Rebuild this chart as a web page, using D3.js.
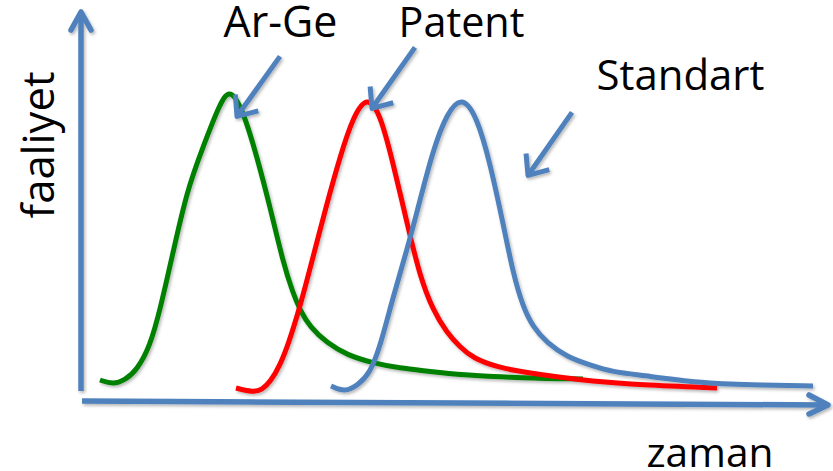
<!DOCTYPE html>
<html><head><meta charset="utf-8">
<script src="https://cdn.jsdelivr.net/npm/d3@7"></script>
<style>html,body{margin:0;padding:0;background:#fff;overflow:hidden}</style>
</head><body>
<svg id="c" width="833" height="471"></svg>
<script>
// ---- data (time, activity) ----
const seriesNames = ["Ar-Ge", "Patent", "Standart"];
const seriesColors = ["#008000", "#ff0000", "#4f81bd"];

const argeTime = [2.43, 4.19, 5.81, 7.43, 9.19, 10.54, 12.16, 14.19, 16.35, 18.65, 20.0, 21.76, 23.65, 25.41, 27.16, 28.51, 29.46, 30.81, 33.11, 35.81, 39.32, 42.97, 46.62, 51.08, 59.59, 67.7];
const argeActivity = [6.45, 5.0, 6.45, 9.68, 17.4, 29.0, 46.1, 67.7, 81.6, 95.8, 100.7, 93.5, 78.4, 62.3, 44.5, 34.5, 29.0, 23.5, 18.4, 14.5, 11.9, 10.3, 9.35, 8.06, 7.1, 6.77];

const patentTime = [20.81, 23.11, 24.32, 25.54, 26.76, 27.84, 29.46, 31.22, 33.11, 34.86, 36.62, 38.51, 40.27, 42.03, 43.92, 45.68, 47.43, 49.32, 51.08, 52.84, 56.08, 59.59, 64.19, 68.65, 75.41, 85.81];
const patentActivity = [3.87, 2.5, 3.23, 6.13, 11.3, 17.7, 30.0, 46.1, 63.5, 78.4, 91.3, 98.2, 92.6, 76.5, 57.1, 39.7, 29.0, 21.6, 17.1, 13.5, 10.6, 9.03, 7.42, 6.13, 4.84, 3.87];

const standartTime = [33.65, 35.54, 37.3, 38.92, 40.27, 42.03, 43.92, 45.68, 47.43, 49.32, 51.35, 53.38, 55.14, 56.89, 58.24, 59.59, 60.95, 62.84, 65.54, 68.65, 71.76, 75.41, 83.51, 90.27, 98.78];
const standartActivity = [4.52, 2.5, 4.84, 8.71, 17.1, 33.2, 48.4, 64.5, 80.6, 92.6, 98.2, 91.3, 76.5, 57.1, 41.0, 30.0, 23.5, 18.4, 13.9, 11.3, 9.03, 8.06, 5.48, 4.84, 4.52];

const xAxisLabel = "zaman";
const yAxisLabel = "faaliyet";

// ---- layout ----
const svg = d3.select("#c");
const x = d3.scaleLinear().domain([0, 100]).range([82, 822]);
const y = d3.scaleLinear().domain([0, 100]).range([400, 90]);
const FONT = "'Open Sans', 'DejaVu Sans', sans-serif";

const defs = svg.append("defs");
const f = defs.append("filter").attr("id", "sh").attr("x", "-10%").attr("y", "-10%").attr("width", "130%").attr("height", "130%");
f.append("feDropShadow").attr("dx", 1.5).attr("dy", 2).attr("stdDeviation", 1.4)
  .attr("flood-color", "#000").attr("flood-opacity", 0.28);

const g = svg.append("g").attr("filter", "url(#sh)");
const axisColor = "#4f81bd";

// axes (drawn from scale ranges)
const x0 = x.range()[0], x1 = x.range()[1] + 6;
const yBase = y.range()[0];
const axY0 = yBase - 9, axY1 = 12;
g.append("line").attr("x1", x0 - 1).attr("x2", x0 - 1).attr("y1", axY0).attr("y2", axY1 + 1)
  .attr("stroke", axisColor).attr("stroke-width", 5.5);
g.append("path").attr("d", `M${x0 - 11},${axY1 + 18}L${x0 - 1},${axY1}L${x0 + 9},${axY1 + 18}`)
  .attr("fill", "none").attr("stroke", axisColor).attr("stroke-width", 5.5)
  .attr("stroke-linecap", "round").attr("stroke-linejoin", "round");
g.append("line").attr("x1", x0).attr("x2", x1 - 1).attr("y1", yBase + 1).attr("y2", yBase + 5)
  .attr("stroke", axisColor).attr("stroke-width", 5.5);
g.append("path").attr("d", `M${x1 - 19},${yBase - 5}L${x1},${yBase + 5}L${x1 - 19},${yBase + 14}`)
  .attr("fill", "none").attr("stroke", axisColor).attr("stroke-width", 5.5)
  .attr("stroke-linecap", "round").attr("stroke-linejoin", "round");

// curves
const series = [
  { name: seriesNames[0], t: argeTime, a: argeActivity, color: seriesColors[0] },
  { name: seriesNames[1], t: patentTime, a: patentActivity, color: seriesColors[1] },
  { name: seriesNames[2], t: standartTime, a: standartActivity, color: seriesColors[2] }
];
const line = d3.line().x(d => x(d[0])).y(d => y(d[1])).curve(d3.curveBasis);
series.forEach(s => {
  const pts = s.t.map((v, i) => [v, s.a[i]]);
  g.append("path").attr("d", line(pts)).attr("fill", "none")
    .attr("stroke", s.color).attr("stroke-width", 5).attr("stroke-linecap", "butt");
});

// annotation arrows, placed relative to each curve's peak
const annot = [
  { tip: [7, 14], tail: [50, -46] },
  { tip: [5, 6], tail: [48, -55] },
  { tip: [66, 73], tail: [110, 10] }
];
series.forEach((s, i) => {
  const k = d3.maxIndex(s.a);
  const px = x(s.t[k]), py = y(96);
  const A = annot[i];
  const P = [px + A.tip[0], py + A.tip[1]];
  const T = [px + A.tail[0], py + A.tail[1]];
  const dx = T[0] - P[0], dy = T[1] - P[1], L = Math.hypot(dx, dy);
  const ux = dx / L, uy = dy / L, len = 22, ang = 40 * Math.PI / 180;
  const rot = a => [P[0] + len * (ux * Math.cos(a) - uy * Math.sin(a)), P[1] + len * (ux * Math.sin(a) + uy * Math.cos(a))];
  const w1 = rot(ang), w2 = rot(-ang);
  g.append("line").attr("x1", T[0]).attr("y1", T[1]).attr("x2", P[0] + ux * 2).attr("y2", P[1] + uy * 2)
    .attr("stroke", axisColor).attr("stroke-width", 5);
  g.append("path").attr("d", `M${w1[0]},${w1[1]}L${P[0]},${P[1]}L${w2[0]},${w2[1]}`)
    .attr("fill", "none").attr("stroke", axisColor).attr("stroke-width", 5)
    .attr("stroke-linecap", "butt").attr("stroke-linejoin", "round");
});

// texts fitted to the widths seen in the picture
function fitText(sel, target) {
  const fs = 42;
  sel.attr("font-size", fs);
  const w = sel.node().getComputedTextLength();
  if (w > 0) sel.attr("font-size", fs * target / w);
  return sel;
}
const labelPos = [[280.5, 37, 114], [461.5, 37, 126], [680.5, 90, 168]];
series.forEach((s, i) => {
  const t = svg.append("text").attr("x", labelPos[i][0]).attr("y", labelPos[i][1])
    .attr("text-anchor", "middle").attr("font-family", FONT).attr("fill", "#000").text(s.name);
  fitText(t, labelPos[i][2]);
});
fitText(svg.append("text").attr("x", 710).attr("y", 467).attr("text-anchor", "middle")
  .attr("font-family", FONT).attr("fill", "#000").text(xAxisLabel), 127);
fitText(svg.append("text").attr("transform", "translate(54,145) rotate(-90)").attr("text-anchor", "middle")
  .attr("font-family", FONT).attr("fill", "#000").text(yAxisLabel), 147);
</script>
</body></html>
